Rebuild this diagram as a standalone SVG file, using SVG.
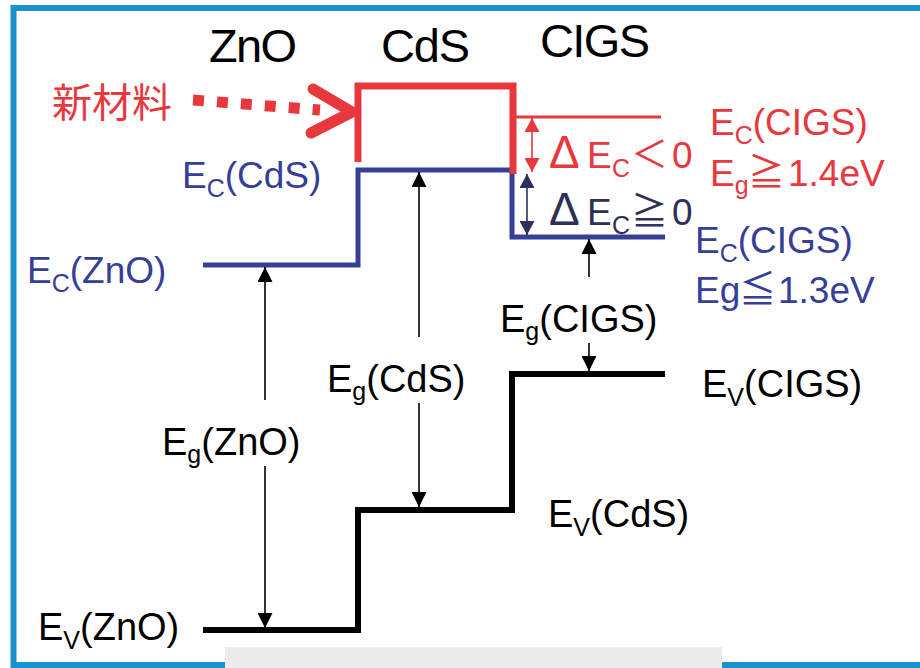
<svg xmlns="http://www.w3.org/2000/svg" width="920" height="668" viewBox="0 0 920 668">
<style>
.t{font-family:"Liberation Sans","Noto Sans CJK JP",sans-serif;}
.cjk{font-family:"Noto Sans CJK JP",sans-serif;}
.blk{fill:#000;font-size:38px;}
.blu{fill:#363f98;font-size:37px;}
.red{fill:#e8383d;font-size:37px;}
.nav{fill:#2d3058;font-size:37px;}
.hdr{fill:#000;font-size:47px;}
.lvl{fill:none;stroke-linejoin:miter;stroke-linecap:butt;}
.thin{stroke-width:1.6;fill:none;}
</style>
<defs>
<marker id="ab" markerUnits="userSpaceOnUse" markerWidth="15" markerHeight="15" refX="15" refY="7.5" orient="auto-start-reverse"><path d="M0,0 L15,7.5 L0,15 z" fill="#000"/></marker>
<marker id="ar" markerUnits="userSpaceOnUse" markerWidth="14" markerHeight="15" refX="14" refY="7.5" orient="auto-start-reverse"><path d="M0,0 L14,7.5 L0,15 z" fill="#e8383d"/></marker>
<marker id="an" markerUnits="userSpaceOnUse" markerWidth="14" markerHeight="15" refX="14" refY="7.5" orient="auto-start-reverse"><path d="M0,0 L14,7.5 L0,15 z" fill="#2d3058"/></marker>
</defs>
<rect x="0" y="0" width="920" height="668" fill="#fff"/>
<rect id="frame" x="13.5" y="8" width="1000" height="657" fill="none" stroke="#1a92d0" stroke-width="6"/>
<rect x="225" y="647" width="497" height="21" fill="#ececec"/>

<g id="headers" class="t hdr">
<text x="209" y="62" textLength="88">ZnO</text>
<text x="381" y="62" textLength="89">CdS</text>
<text x="540" y="57" textLength="110">CIGS</text>
</g>

<g id="levels">
<path id="ec-blue" class="lvl" d="M203,265 H358 V170 H512 V237 H665" stroke="#363f98" stroke-width="5"/>
<path id="ev-black" class="lvl" d="M203,630 H358 V510 H512 V374 H665" stroke="#000" stroke-width="6"/>
<path id="ec-red" class="lvl" d="M358,162 V86 H513 V174" stroke="#e8383d" stroke-width="7"/>
<path id="ec-red-cigs" class="lvl" d="M515,117 H661" stroke="#e8383d" stroke-width="3"/>
</g>

<g id="connectors">
<line class="thin" x1="265" y1="400" x2="265" y2="267" stroke="#000" marker-end="url(#ab)"/>
<line class="thin" x1="265" y1="466" x2="265" y2="628" stroke="#000" marker-end="url(#ab)"/>
<line class="thin" x1="419" y1="337" x2="419" y2="172" stroke="#000" marker-end="url(#ab)"/>
<line class="thin" x1="419" y1="403" x2="419" y2="507" stroke="#000" marker-end="url(#ab)"/>
<line class="thin" x1="589" y1="277" x2="589" y2="239" stroke="#000" marker-end="url(#ab)"/>
<line class="thin" x1="589" y1="343" x2="589" y2="371" stroke="#000" marker-end="url(#ab)"/>
<line class="thin" x1="532" y1="118" x2="532" y2="172" stroke="#e8383d" stroke-width="2" marker-start="url(#ar)" marker-end="url(#ar)"/>
<line class="thin" x1="527" y1="174" x2="527" y2="235" stroke="#2d3058" stroke-width="2" marker-start="url(#an)" marker-end="url(#an)"/>
<g id="new-material-arrow">
<line x1="193" y1="100" x2="320" y2="110" stroke="#e8383d" stroke-width="11" stroke-dasharray="11 13"/>
<polyline points="313,89 352,112 311,133" fill="none" stroke="#e8383d" stroke-width="11" stroke-linecap="round" stroke-linejoin="round"/>
</g>
</g>

<g id="new-material"><text class="cjk" x="52" y="117" font-size="40" fill="#e8383d">新材料</text></g>

<g id="ec-zno"><text class="t blu" x="27" y="283">E<tspan font-size="25" dy="9">C</tspan><tspan dy="-9">(ZnO)</tspan></text></g>
<g id="ec-cds"><text class="t blu" x="182" y="188">E<tspan font-size="25" dy="9">C</tspan><tspan dy="-9">(CdS)</tspan></text></g>
<g id="ec-cigs-red"><text class="t red" x="710" y="135">E<tspan font-size="25" dy="9">C</tspan><tspan dy="-9">(CIGS)</tspan></text></g>
<g id="eg-cigs-red"><text class="t red" x="710" y="186">E<tspan font-size="25" dy="8">g</tspan><tspan class="cjk" x="748" dy="-8">≧</tspan><tspan x="788">1.4eV</tspan></text></g>
<g id="ec-cigs-blue"><text class="t blu" x="695" y="253">E<tspan font-size="25" dy="9">C</tspan><tspan dy="-9">(CIGS)</tspan></text></g>
<g id="eg-cigs-blue"><text class="t blu" x="695" y="303">Eg<tspan class="cjk" x="739">≦</tspan><tspan x="778">1.3eV</tspan></text></g>
<g id="dec-neg"><text class="t red" x="549" y="168"><tspan font-size="46">Δ</tspan><tspan x="587">E</tspan><tspan font-size="25" x="612" dy="9">C</tspan><tspan class="cjk" x="631" dy="-9">＜</tspan><tspan x="672">0</tspan></text></g>
<g id="dec-pos"><text class="t nav" x="549" y="225"><tspan font-size="46">Δ</tspan><tspan x="587">E</tspan><tspan font-size="25" x="612" dy="9">C</tspan><tspan class="cjk" x="631" dy="-9">≧</tspan><tspan x="672">0</tspan></text></g>

<g id="eg-cigs"><text class="t blk" x="500" y="332">E<tspan font-size="25" dy="8">g</tspan><tspan dy="-8">(CIGS)</tspan></text></g>
<g id="ev-cigs"><text class="t blk" x="702" y="397">E<tspan font-size="25" dy="9">V</tspan><tspan dy="-9">(CIGS)</tspan></text></g>
<g id="ev-cds"><text class="t blk" x="548" y="527">E<tspan font-size="25" dy="9">V</tspan><tspan dy="-9">(CdS)</tspan></text></g>
<g id="eg-cds"><text class="t blk" x="327" y="392">E<tspan font-size="25" dy="8">g</tspan><tspan dy="-8">(CdS)</tspan></text></g>
<g id="eg-zno"><text class="t blk" x="162" y="455">E<tspan font-size="25" dy="8">g</tspan><tspan dy="-8">(ZnO)</tspan></text></g>
<g id="ev-zno"><text class="t blk" x="38" y="640">E<tspan font-size="25" dy="9">V</tspan><tspan dy="-9">(ZnO)</tspan></text></g>
</svg>
